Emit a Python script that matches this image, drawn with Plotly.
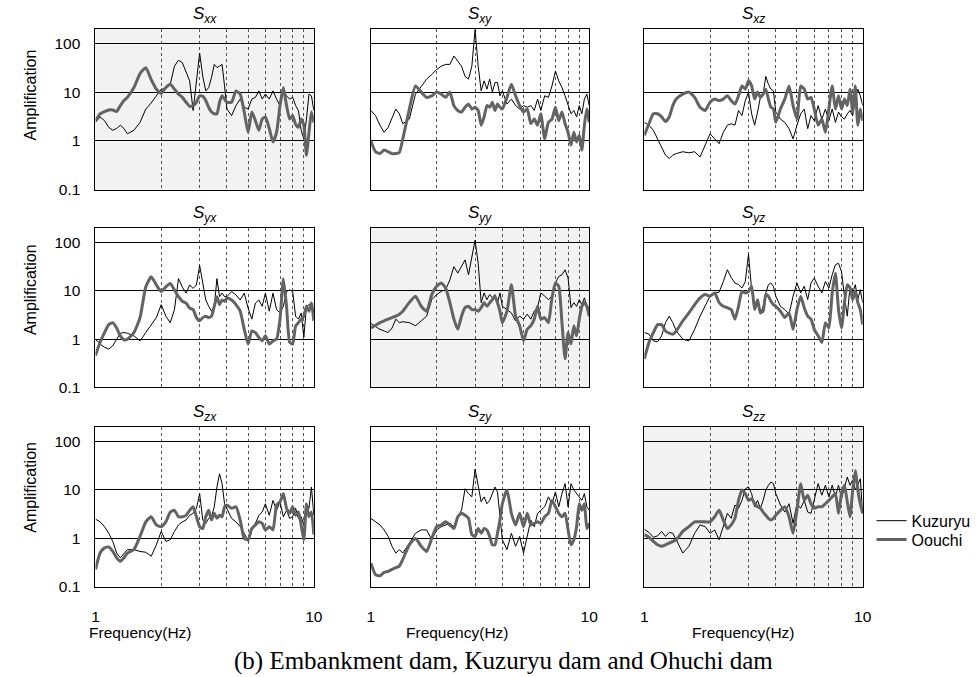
import plotly.graph_objects as go

# Frequency sampling points (Hz), shared by every transfer-function panel
FREQ = [1.00, 1.05, 1.10, 1.15, 1.20, 1.25, 1.30, 1.35, 1.40,
        1.5, 1.6, 1.7, 1.8, 1.9, 2.0, 2.1, 2.2, 2.3, 2.4, 2.5, 2.6, 2.7, 2.8, 2.9,
        3.0, 3.1, 3.2, 3.3, 3.4, 3.5, 3.6, 3.7, 3.8, 3.9, 4.0,
        4.2, 4.4, 4.6, 4.8, 5.0, 5.2, 5.4, 5.6, 5.8, 6.0,
        6.25, 6.5, 6.75, 7.0, 7.25, 7.5, 7.75, 8.0, 8.25, 8.5, 8.75, 9.0, 9.25, 9.5, 9.75, 10.0]

# Amplification spectra, Kuzuryu dam (KUZ) and Oouchi dam (OOU)
KUZ_XX = [2.4, 3.1, 2.6, 1.9, 1.65, 1.8, 2.1, 1.8, 1.4,
          1.65, 2.4, 4.5, 6.0, 8.4, 11.5, 11.9, 14.5, 34, 45, 40, 27, 17, 4.2, 15.7, 63, 21, 10.6, 12.4, 20, 37, 32, 34, 37, 13.4, 4.5,
          3.3, 5.3, 7.2, 4.9, 4.5, 7.2, 7.8, 10.6, 7.2, 9.1,
          7.2, 10.6, 7.2, 5.3, 10.6, 8.4, 7.2, 7.8, 5.3, 4.2, 1.65, 1.1, 2.8, 9.1, 8.4, 4.2]
OOU_XX = [2.6, 3.6, 4.0, 4.3, 4.3, 4.0, 5.3, 6.7, 7.8,
          12.4, 24, 31.6, 18, 11.5, 9.4, 12.4, 14.5, 11.5, 9.1, 7.8, 6.2, 5.1, 5.3, 6.2, 8.4, 8.2, 6.7, 4.9, 3.9, 3.6, 3.6, 6.2, 8.4, 7.2, 6.2,
          6.2, 10.6, 9.1, 3.9, 1.5, 3.9, 2.6, 1.65, 2.8, 3.1,
          1.8, 0.95, 1.5, 5.3, 12.4, 5.3, 2.8, 3.3, 2.2, 1.9, 2.8, 2.1, 0.51, 1.5, 3.9, 2.4]

KUZ_XY = [4.2, 3.3, 2.1, 1.5, 1.9, 3.1, 4.5, 3.6, 2.25,
          2.8, 9.1, 13, 18.5, 23, 29, 34, 37, 37, 55, 43, 34, 21, 18.5, 34, 190, 34, 10.6, 17, 11.5, 18.5, 10, 15.7, 15.7, 8.4, 10.6,
          5.7, 7.2, 5.3, 4.5, 5.3, 4.9, 5.3, 4.2, 7.2, 4.2,
          8.4, 7.8, 13.4, 27, 17, 12.4, 8.4, 5.3, 3.6, 4.2, 3.1, 5.3, 3.6, 7.2, 9.1, 5.3]
OOU_XY = [1.0, 0.6, 0.55, 0.65, 0.6, 0.55, 0.55, 0.58, 1.1,
          4.5, 13.4, 10, 7.8, 8.4, 10, 9.1, 7.8, 10, 5.3, 4.2, 3.9, 4.9, 5.7, 4.5, 4.9, 4.2, 2.1, 3.1, 5.3, 4.9, 6.2, 4.2, 5.7, 4.9, 4.5,
          7.8, 14.5, 8.4, 5.3, 3.9, 4.5, 2.25, 2.8, 2.1, 3.6,
          1.1, 2.4, 2.8, 4.9, 2.6, 3.9, 2.25, 1.5, 0.82, 1.5, 0.95, 1.3, 0.65, 2.1, 4.5, 2.4]

KUZ_XZ = [2.4, 2.1, 1.65, 1.1, 0.76, 0.51, 0.44, 0.51, 0.55,
          0.6, 0.57, 0.6, 0.47, 0.82, 1.4, 1.1, 0.88, 1.5, 2.1, 2.25, 2.1, 4.2, 3.3, 6.7, 10, 3.6, 2.1, 3.9, 7.8, 9.1, 21, 14.5, 11.5, 10.6, 3.9,
          2.8, 2.4, 1.78, 1.1, 2.1, 3.6, 4.5, 1.78, 3.3, 2.6,
          5.3, 2.8, 4.5, 2.6, 4.5, 2.4, 3.9, 3.1, 2.8, 3.6, 4.2, 3.3, 7.8, 11.5, 8.4, 5.3]
OOU_XZ = [1.3, 2.25, 3.6, 3.6, 3.1, 2.5, 3.1, 5.3, 7.2,
          9.1, 10, 7.8, 4.9, 4.2, 6.2, 7.2, 6.7, 7.2, 8.4, 6.7, 5.7, 8.4, 13.4, 11.5, 17, 13.4, 7.2, 10, 7.8, 9.1, 11.5, 7.2, 4.9, 4.5, 2.4,
          4.5, 7.2, 13.4, 5.3, 2.8, 13.4, 11.5, 7.2, 7.8, 4.5,
          2.1, 2.8, 1.5, 4.5, 13.4, 4.5, 8.4, 4.5, 7.2, 5.3, 11.5, 3.9, 13.4, 2.1, 4.5, 2.6]

KUZ_YX = [1.0, 0.79, 0.68, 0.62, 0.73, 1.0, 1.33, 1.37, 1.33,
          1.17, 0.92, 1.37, 2.0, 2.8, 5.2, 3.0, 2.2, 4.1, 18, 12, 9, 13.3, 11.3, 13.3, 34, 14.3, 6.5, 4.8, 3.8, 4.8, 18, 7.6, 9, 7.6, 7.6,
          9.7, 8.3, 6.5, 9, 4.4, 2.6, 5.6, 6.5, 4.8, 9,
          3.8, 9, 4.1, 3.5, 4.8, 9.7, 10.5, 9.7, 3.0, 2.6, 3.5, 1.1, 4.8, 5.2, 5.6, 3.5]
OOU_YX = [0.46, 0.86, 1.37, 2.0, 2.2, 1.7, 1.17, 0.97, 1.0,
          1.37, 2.8, 12.2, 19.6, 13.3, 9.7, 12.2, 14.3, 10.5, 7.6, 6.1, 5.6, 4.4, 4.1, 2.8, 2.4, 2.8, 3.0, 2.8, 3.0, 4.8, 7.6, 5.2, 6.5, 6.1, 7.1,
          6.5, 5.2, 3.8, 1.6, 0.79, 1.48, 1.37, 1.08, 0.92, 1.17,
          0.79, 0.92, 1.0, 2.6, 18, 4.8, 0.86, 0.79, 1.87, 2.2, 2.6, 3.0, 4.8, 3.8, 5.6, 2.4]

KUZ_YY = [2.1, 1.8, 1.6, 1.48, 1.37, 1.7, 2.6, 2.2, 2.3,
          2.2, 1.9, 2.4, 3.0, 6.6, 8.4, 9.8, 10.6, 17, 32, 23.4, 32, 44, 21.7, 51, 113, 37.5, 5.7, 9.1, 6.6, 8.4, 7.2, 8.4, 5.7, 9.1, 4.8,
          4.1, 3.5, 2.4, 3.0, 2.6, 3.3, 2.6, 3.8, 4.5, 9.1,
          7.8, 6.6, 7.8, 14.6, 20, 21.7, 27.5, 18.5, 4.5, 5.7, 4.8, 6.6, 5.2, 7.2, 4.8, 4.5]
OOU_YY = [1.7, 1.95, 2.2, 2.4, 2.6, 2.8, 3.0, 3.3, 3.8,
          5.8, 7.8, 4.8, 3.8, 8.4, 12.5, 14.6, 11.5, 5.7, 2.6, 1.6, 3.0, 4.5, 4.8, 4.1, 4.1, 3.8, 4.5, 5.7, 4.8, 5.7, 6.6, 7.8, 5.7, 3.8, 2.2,
          3.8, 13.5, 3.0, 1.9, 0.93, 1.6, 1.9, 2.6, 4.8, 2.6,
          2.8, 2.2, 7.2, 14.6, 12.5, 2.2, 0.39, 1.37, 0.79, 1.9, 1.17, 2.6, 4.8, 5.7, 4.8, 3.0]

KUZ_YZ = [1.37, 1.27, 0.92, 0.88, 1.17, 2.2, 3.0, 2.2, 1.48,
          1.0, 0.92, 1.6, 3.0, 4.8, 7.8, 9.1, 9.4, 15.7, 27.5, 19, 14.6, 13.5, 11.5, 15.7, 58, 10.6, 4.1, 5.7, 3.3, 4.8, 9.1, 13.5, 14.6, 12.5, 7.8,
          4.8, 4.1, 3.3, 7.8, 14.6, 9.1, 12.5, 6.6, 14.6, 18.5,
          12.5, 9.1, 15.7, 11.5, 21.7, 35, 37.5, 25, 7.8, 3.0, 12.5, 9.1, 13.5, 6.6, 10.6, 5.7]
OOU_YZ = [0.39, 0.85, 1.37, 2.0, 2.0, 1.48, 1.33, 1.27, 1.48,
          2.4, 3.5, 5.2, 7.2, 8.4, 7.8, 9.1, 5.7, 4.8, 4.5, 4.1, 2.6, 4.8, 9.8, 9.1, 9.8, 12.5, 4.1, 6.6, 3.5, 3.8, 8.4, 7.8, 6.1, 5.2, 4.8,
          3.8, 2.8, 3.5, 1.6, 4.1, 7.8, 4.5, 3.0, 2.6, 1.6,
          1.17, 0.85, 2.2, 1.7, 9.1, 23.4, 4.1, 1.7, 5.7, 13.5, 11.5, 6.6, 9.8, 5.7, 4.1, 2.0]

KUZ_ZX = [2.5, 2.2, 1.75, 1.28, 0.87, 0.5, 0.4, 0.5, 0.59,
          0.59, 0.54, 0.52, 0.43, 0.74, 1.4, 0.87, 0.94, 1.4, 1.9, 2.2, 2.4, 3.0, 3.3, 4.2, 8.4, 2.4, 2.05, 2.6, 2.8, 4.5, 11.5, 21.5, 13.5, 5.2, 4.2,
          2.6, 2.2, 1.75, 1.28, 0.87, 1.5, 2.05, 3.0, 3.5, 5.2,
          3.0, 6.1, 3.8, 5.7, 2.8, 3.8, 2.6, 2.8, 4.2, 2.6, 2.8, 1.9, 5.2, 4.2, 11.5, 3.0]
OOU_ZX = [0.23, 0.5, 0.64, 0.67, 0.54, 0.4, 0.34, 0.4, 0.5,
          0.59, 1.1, 2.2, 2.8, 1.9, 1.75, 2.2, 3.5, 3.8, 2.8, 2.8, 3.0, 3.8, 4.5, 2.8, 1.75, 1.6, 2.8, 3.8, 2.4, 3.3, 2.6, 3.0, 2.8, 4.5, 4.9,
          4.2, 4.5, 2.4, 1.0, 0.94, 1.6, 1.9, 2.2, 2.05, 1.5,
          1.75, 1.5, 4.9, 5.7, 8.4, 4.2, 3.3, 4.5, 3.0, 3.5, 1.9, 0.94, 5.2, 2.8, 3.5, 1.2]

KUZ_ZY = [2.6, 2.2, 1.9, 1.5, 1.1, 0.69, 0.5, 0.59, 0.5,
          0.8, 1.28, 1.5, 1.5, 0.94, 1.5, 1.75, 1.9, 2.05, 1.75, 2.8, 3.8, 10.6, 8.4, 7.2, 27, 11.5, 5.7, 7.2, 5.2, 6.1, 8.4, 11.5, 9.1, 3.3, 0.94,
          0.59, 1.28, 0.69, 1.1, 0.5, 1.1, 2.4, 1.75, 3.3, 3.8,
          4.5, 7.2, 5.2, 9.1, 4.5, 8.4, 13.5, 4.5, 13.5, 10, 8.4, 7.2, 6.1, 8.4, 4.5, 3.8]
OOU_ZY = [0.31, 0.18, 0.17, 0.2, 0.21, 0.23, 0.25, 0.27, 0.37,
          0.74, 1.0, 0.69, 0.54, 1.0, 1.75, 1.9, 2.2, 1.9, 1.6, 2.8, 3.3, 3.0, 2.6, 1.2, 1.1, 1.6, 1.28, 1.6, 1.5, 1.1, 0.74, 0.74, 1.28, 2.4, 5.2,
          10, 3.3, 1.9, 3.3, 1.75, 3.3, 1.9, 2.05, 2.2, 2.05,
          2.8, 3.3, 6.1, 4.5, 3.3, 2.8, 3.3, 1.5, 0.74, 0.94, 1.75, 5.2, 3.8, 5.2, 1.6, 2.05]

KUZ_ZZ = [1.55, 1.33, 1.06, 1.13, 1.4, 1.1, 1.33, 1.28, 0.94,
          0.5, 0.69, 1.28, 1.9, 1.75, 1.28, 1.5, 0.94, 1.75, 3.3, 2.6, 4.9, 4.2, 6.1, 10.6, 11.5, 8.4, 4.5, 6.1, 4.2, 6.1, 10, 12.5, 14.6, 13.5, 8.4,
          4.9, 3.5, 5.2, 2.05, 5.2, 4.2, 6.1, 3.5, 3.3, 6.6,
          13.5, 7.8, 12.5, 7.2, 12.5, 7.2, 12.5, 6.6, 11.5, 18.5, 12.5, 16, 10, 13.5, 17, 3.3]
OOU_ZZ = [1.2, 1.06, 0.87, 0.74, 0.69, 0.74, 0.8, 0.87, 0.94,
          1.4, 1.75, 2.2, 2.2, 2.2, 2.2, 2.8, 3.8, 2.4, 1.6, 1.9, 2.6, 6.1, 10, 8.4, 6.1, 6.6, 5.2, 4.5, 4.2, 3.5, 3.0, 2.6, 2.4, 2.6, 3.0,
          3.8, 4.5, 2.8, 1.28, 3.8, 13.5, 6.1, 7.8, 5.2, 4.2,
          4.5, 4.5, 5.2, 6.1, 7.2, 8.4, 3.3, 8.4, 12.5, 5.7, 2.8, 10, 25, 10, 5.2, 3.3]

PANEL_KEYS = ["xx", "xy", "xz", "yx", "yy", "yz", "zx", "zy", "zz"]
KUZURYU = [KUZ_XX, KUZ_XY, KUZ_XZ, KUZ_YX, KUZ_YY, KUZ_YZ, KUZ_ZX, KUZ_ZY, KUZ_ZZ]
OOUCHI = [OOU_XX, OOU_XY, OOU_XZ, OOU_YX, OOU_YY, OOU_YZ, OOU_ZX, OOU_ZY, OOU_ZZ]

X_TICKS = [1, 10]
X_TICK_TEXT = ["1", "10"]
X_MINOR = [2, 3, 4, 5, 6, 7, 8, 9]
Y_TICKS = [0.1, 1, 10, 100]
Y_TICK_TEXT = ["0.1", "1", "10", "100"]

W, H = 976, 677
COLS = [(93, 315), (373, 595), (651, 873)]
ROWS = [(29, 192), (231, 392), (432, 594)]
SANS = "Liberation Sans, Arial, sans-serif"
SERIF = "Liberation Serif, Times New Roman, serif"
FS = 15.5

fig = go.Figure()
layout = dict(
    width=W, height=H, autosize=False,
    margin=dict(l=0, r=0, t=0, b=0),
    paper_bgcolor="white", plot_bgcolor="white",
    font=dict(family=SANS, size=FS, color="black"),
    showlegend=True,
    legend=dict(x=882 / W, y=1 - 527 / H, xanchor="left", yanchor="middle",
                bgcolor="rgba(0,0,0,0)", font=dict(size=16, color="black"),
                itemwidth=30),
    legend2=dict(x=882 / W, y=1 - 546 / H, xanchor="left", yanchor="middle",
                 bgcolor="rgba(0,0,0,0)", font=dict(size=16, color="black"),
                 itemwidth=30),
)
shapes, annotations = [], []

for i, key in enumerate(PANEL_KEYS):
    r, c = divmod(i, 3)
    n = "" if i == 0 else str(i + 1)
    x0, x1 = COLS[c]
    y0, y1 = ROWS[r]
    layout["xaxis" + n] = dict(
        domain=[x0 / W, x1 / W], anchor="y" + n, type="log", range=[0, 1],
        tickvals=X_TICKS, ticktext=X_TICK_TEXT, showticklabels=(r == 2),
        ticks="", ticklabelstandoff=15, showgrid=False,
        minor=dict(tickvals=X_MINOR, showgrid=True, gridcolor="#555555",
                   gridwidth=1, griddash="dot", ticks=""),
        showline=True, mirror=True, linecolor="black", linewidth=1, zeroline=False,
    )
    layout["yaxis" + n] = dict(
        domain=[1 - y1 / H, 1 - y0 / H], anchor="x" + n, type="log", range=[-1, 2.3],
        tickvals=Y_TICKS, ticktext=Y_TICK_TEXT, showticklabels=(c == 0),
        ticks="", ticklabelstandoff=11,
        showgrid=True, gridcolor="black", gridwidth=1,
        showline=True, mirror=True, linecolor="black", linewidth=1, zeroline=False,
    )
    if r == c:
        shapes.append(dict(type="rect", xref="x%s domain" % n, yref="y%s domain" % n,
                           x0=0, x1=1, y0=0, y1=1, fillcolor="#f2f2f2",
                           line=dict(width=0), layer="below"))
    annotations.append(dict(
        text="<i>S<sub>%s</sub></i>" % key, xref="paper", yref="paper",
        x=(x0 + x1) / 2 / W, y=1 - (y0 - 1) / H, xanchor="center", yanchor="bottom",
        showarrow=False, font=dict(size=17)))

    fig.add_trace(go.Scatter(
        x=FREQ, y=KUZURYU[i], mode="lines", name="Kuzuryu",
        line=dict(color="black", width=1), xaxis="x" + n, yaxis="y" + n,
        showlegend=(i == 8), legend="legend"))
    fig.add_trace(go.Scatter(
        x=FREQ, y=OOUCHI[i], mode="lines", name="Oouchi",
        line=dict(color="#636363", width=3, shape="spline", smoothing=0.5),
        xaxis="x" + n, yaxis="y" + n, showlegend=(i == 8), legend="legend2"))

# Row labels on the left
for yc in (96, 293, 493):
    annotations.append(dict(text="Amplification", xref="paper", yref="paper",
                            x=27 / W, y=1 - yc / H, textangle=-90, showarrow=False,
                            xanchor="center", yanchor="middle", font=dict(size=16)))

# Frequency labels under the bottom row
for xc in (139, 461, 752):
    annotations.append(dict(text="Frequency(Hz)", xref="paper", yref="paper",
                            x=xc / W, y=1 - 640 / H, showarrow=False,
                            xanchor="center", yanchor="middle", font=dict(size=FS)))

annotations.append(dict(text="(b) Embankment dam, Kuzuryu dam and Ohuchi dam",
                        xref="paper", yref="paper", x=508 / W, y=1 - 669 / H,
                        showarrow=False, xanchor="center", yanchor="middle",
                        font=dict(family=SERIF, size=25, color="black")))

layout["shapes"] = shapes
layout["annotations"] = annotations
fig.update_layout(**layout)
fig.write_html("out.html")
